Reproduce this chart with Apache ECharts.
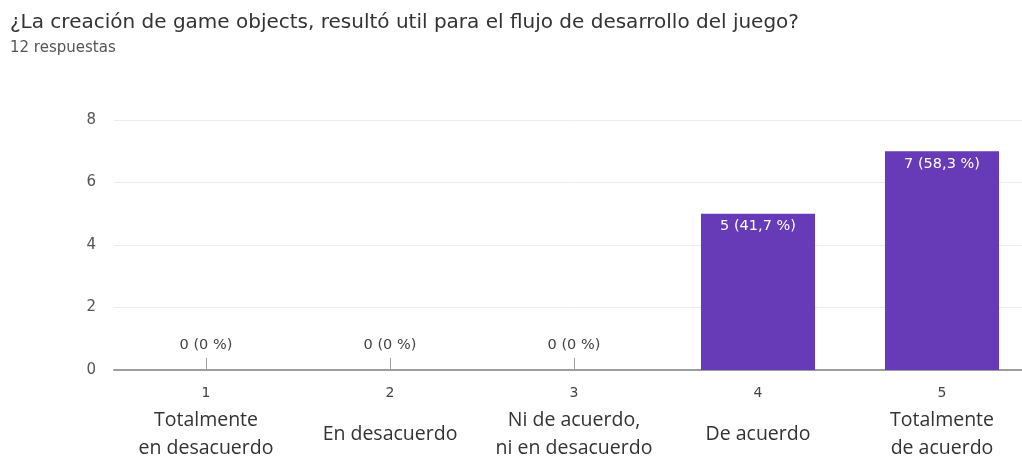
<!DOCTYPE html>
<html>
<head>
<meta charset="utf-8">
<script src="https://cdn.jsdelivr.net/npm/echarts@6/dist/echarts.min.js"></script>
<style>
  html, body { margin: 0; padding: 0; background: #fff; }
  #chart { width: 1022px; height: 456px; }
</style>
</head>
<body>
<div id="chart"></div>
<script>
// Survey question and response summary
const questionTitle = '¿La creación de game objects, resultó util para el flujo de desarrollo del juego?';
const responseCount = '12 respuestas';

// Likert scale options: number and description (two lines where needed)
const scaleNumbers = ['1', '2', '3', '4', '5'];
const scaleLabels = [
  ['Totalmente', 'en desacuerdo'],
  ['En desacuerdo'],
  ['Ni de acuerdo,', 'ni en desacuerdo'],
  ['De acuerdo'],
  ['Totalmente', 'de acuerdo']
];

// Number of answers per option
const answerCounts = [0, 0, 0, 5, 7];

// Value axis ticks
const yTicks = { min: 0, max: 8, interval: 2 };

const total = answerCounts.reduce((a, b) => a + b, 0);
const BAR_COLOR = '#673ab7';
const UI_FONT = 'DejaVu Sans';

function pctText(v) {
  const p = total ? (v / total) * 100 : 0;
  const s = p === 0 ? '0' : p.toFixed(1).replace('.', ',');
  return v + ' (' + s + ' %)';
}

function axisLabelText(i) {
  const lines = scaleLabels[i];
  if (lines.length === 1) return '{n|' + scaleNumbers[i] + '}\n{m|' + lines[0] + '}';
  return '{n|' + scaleNumbers[i] + '}\n' + lines.map(l => '{t|' + l + '}').join('\n');
}

const barData = answerCounts.map(v => ({
  value: v,
  label: v > 0
    ? { show: true, position: 'insideTop', distance: 5, color: '#fff' }
    : { show: true, position: 'top', distance: 17, color: '#444' }
}));

const chart = echarts.init(document.getElementById('chart'), null, { renderer: 'canvas' });
chart.setOption({
  animation: false,
  backgroundColor: '#fff',
  title: [
    {
      text: questionTitle,
      left: 5, top: 8,
      textStyle: { fontFamily: UI_FONT, fontSize: 20, fontWeight: 'normal', color: '#333' }
    },
    {
      text: responseCount,
      left: 5, top: 36,
      textStyle: { fontFamily: UI_FONT, fontSize: 15, fontWeight: 'normal', color: '#555' }
    }
  ],
  grid: { left: 114, top: 120, width: 920, bottom: 86, outerBoundsMode: 'none', containLabel: false },
  xAxis: {
    type: 'category',
    data: scaleNumbers,
    axisLine: { show: true, lineStyle: { color: '#9e9e9e', width: 2 } },
    axisTick: { show: true, alignWithLabel: true, inside: true, length: 12, lineStyle: { color: '#9e9e9e' } },
    axisLabel: {
      interval: 0,
      margin: 10,
      formatter: (val, idx) => axisLabelText(idx),
      rich: {
        n: { fontFamily: UI_FONT, fontSize: 14, color: '#444', lineHeight: 26, align: 'center' },
        t: { fontFamily: 'Open Sans', fontSize: 19.5, color: '#333', lineHeight: 28, align: 'center' },
        m: { fontFamily: 'Open Sans', fontSize: 19.5, color: '#333', lineHeight: 56, align: 'center' }
      }
    }
  },
  yAxis: {
    type: 'value',
    min: yTicks.min, max: yTicks.max, interval: yTicks.interval,
    axisLine: { show: false },
    axisTick: { show: false },
    axisLabel: { fontFamily: UI_FONT, fontSize: 15, color: '#555', margin: 18 },
    splitLine: { lineStyle: { color: '#ececec', width: 1 } }
  },
  series: [{
    type: 'bar',
    data: barData,
    barWidth: '62%',
    itemStyle: { color: BAR_COLOR },
    label: {
      fontFamily: UI_FONT,
      fontSize: 14.5,
      formatter: p => pctText(p.value)
    }
  }]
});
</script>
</body>
</html>
